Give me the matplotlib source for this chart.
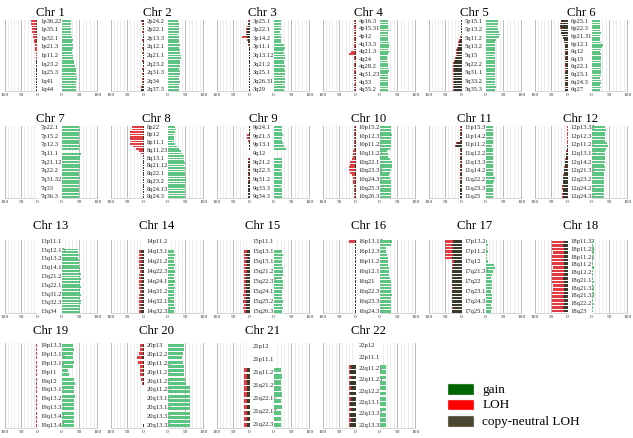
import matplotlib
matplotlib.use('Agg')
import matplotlib.pyplot as plt
from matplotlib.patches import Rectangle
from matplotlib.transforms import blended_transform_factory
import numpy as np

plt.rcParams['font.family'] = ['Liberation Serif', 'DejaVu Serif']

chromosomes = [str(i) for i in range(1, 23)]

band_labels = {
    '1': ['1p36.22', '1p35.1', '1p32.1', '1p21.3', '1p11.2', '1q23.2', '1q25.3', '1q41', '1q44'],
    '2': ['2p24.2', '2p22.1', '2p13.3', '2q12.1', '2q21.1', '2q23.2', '2q31.3', '2q34', '2q37.3'],
    '3': ['3p25.1', '3p22.1', '3p14.2', '3p11.1', '3q13.12', '3q21.2', '3q25.1', '3q26.31', '3q29'],
    '4': ['4p16.3', '4p15.31', '4p12', '4q13.3', '4q21.3', '4q24', '4q28.2', '4q31.23', '4q33', '4q35.2'],
    '5': ['5p15.1', '5p13.2', '5q11.2', '5q13.2', '5q15', '5q22.2', '5q31.1', '5q33.2', '5q35.3'],
    '6': ['6p25.1', '6p22.3', '6p21.31', '6p12.1', '6q12', '6q15', '6q22.1', '6q23.1', '6q24.3', '6q27'],
    '7': ['7p22.1', '7p15.2', '7p12.3', '7q11.1', '7q21.12', '7q22.2', '7q31.32', '7q33', '7q36.3'],
    '8': ['8p22', '8p12', '8p11.1', '8q11.23', '8q13.1', '8q21.12', '8q22.1', '8q23.2', '8q24.13', '8q24.3'],
    '9': ['9p24.1', '9p21.3', '9p13.1', '9q12', '9q21.2', '9q22.3', '9q31.2', '9q33.3', '9q34.3'],
    '10': ['10p15.2', '10p12.32', '10p11.22', '10q11.22', '10q22.1', '10q23.31', '10q24.31', '10q25.3', '10q26.3'],
    '11': ['11p15.3', '11p14.2', '11p11.2', '11q12.2', '11q13.3', '11q14.2', '11q22.2', '11q23.3', '11q25'],
    '12': ['12p13.33', '12p12.3', '12p11.21', '12q13.12', '12q14.2', '12q21.31', '12q23.2', '12q24.21', '12q24.33'],
    '13': ['13p11.1', '13q12.13', '13q13.2', '13q14.13', '13q21.2', '13q22.1', '13q31.2', '13q32.3', '13q34'],
    '14': ['14p11.2', '14q13.1', '14q21.2', '14q22.3', '14q24.1', '14q31.2', '14q32.13', '14q32.33'],
    '15': ['15p11.1', '15q13.1', '15q15.1', '15q21.2', '15q22.31', '15q24.1', '15q25.2', '15q26.3'],
    '16': ['16p13.13', '16p12.3', '16p11.2', '16q12.1', '16q21', '16q22.3', '16q23.3', '16q24.3'],
    '17': ['17p13.2', '17p11.2', '17q12', '17q21.31', '17q22', '17q23.1', '17q24.3', '17q25.1'],
    '18': ['18p11.32', '18p11.23', '18p11.21', '18q11.2', '18q12.2', '18q21.1', '18q21.31', '18q21.33', '18q22.2', '18q23'],
    '19': ['19p13.3', '19p13.13', '19p13.11', '19p11', '19q12', '19q13.12', '19q13.2', '19q13.32', '19q13.41', '19q13.43'],
    '20': ['20p13', '20p12.2', '20p11.23', '20p11.21', '20q11.21', '20q11.23', '20q13.11', '20q13.13', '20q13.31', '20q13.33'],
    '21': ['21p12', '21p11.1', '21q11.2', '21q21.2', '21q22.11', '21q22.13', '21q22.3'],
    '22': ['22p12', '22p11.1', '22q11.21', '22q11.23', '22q12.2', '22q13.1', '22q13.31', '22q13.33'],
}

gain = {
    '1': [26, 27, 25, 27, 28, 26, 30, 31, 29, 33, 31, 30, 29, 31, 32, 35, 36, 38, 40, 42, 41, 43, 44, 42, 41, 42, 40],
    '2': [30, 32, 31, 33, 32, 30, 31, 33, 32, 34, 33, 35, 36, 38, 37, 36, 35, 34, 33, 35, 34, 33, 32, 34, 33, 32, 31],
    '3': [22, 21, 22, 20, 19, 21, 20, 22, 21, 30, 31, 29, 30, 32, 31, 30, 29, 31, 30, 32, 31, 30, 31, 32, 30, 31, 30],
    '4': [24, 25, 23, 24, 26, 25, 24, 23, 25, 26, 28, 27, 25, 26, 24, 22, 20, 21, 23, 24, 25, 26, 24, 25, 23, 24, 25, 24, 23, 24],
    '5': [34, 35, 33, 36, 38, 40, 37, 30, 28, 27, 26, 28, 27, 25, 26, 27, 28, 26, 27, 28, 27, 26, 27, 28, 27, 29, 28],
    '6': [24, 25, 23, 24, 25, 26, 24, 23, 25, 27, 33, 30, 26, 25, 27, 26, 28, 27, 26, 27, 28, 26, 27, 26, 25, 27, 26, 25, 26, 25],
    '7': [50, 51, 49, 50, 48, 49, 50, 51, 49, 0, 55, 52, 51, 50, 52, 51, 50, 49, 50, 51, 50, 49, 48, 50, 49, 48, 49],
    '8': [22, 23, 21, 18, 17, 19, 18, 20, 28, 33, 37, 40, 45, 47, 46, 48, 47, 49, 48, 50, 49, 51, 53, 52, 50, 49, 51, 50, 49, 48],
    '9': [24, 25, 23, 26, 25, 24, 27, 30, 36, 0, 0, 0, 24, 25, 23, 24, 22, 25, 24, 23, 24, 25, 22, 24, 23, 25, 24],
    '10': [32, 33, 31, 34, 33, 32, 31, 33, 30, 22, 24, 23, 30, 35, 36, 34, 33, 30, 28, 30, 31, 32, 33, 32, 31, 33, 32],
    '11': [20, 21, 20, 21, 20, 21, 20, 19, 20, 21, 20, 21, 20, 21, 20, 22, 21, 20, 22, 26, 24, 21, 20, 21, 20, 21, 20],
    '12': [38, 40, 39, 38, 37, 39, 44, 46, 42, 38, 37, 39, 38, 37, 36, 38, 37, 36, 35, 34, 36, 35, 34, 35, 36, 35, 34],
    '13': [0, 0, 0, 46, 47, 48, 47, 48, 49, 50, 52, 53, 54, 53, 54, 53, 52, 54, 53, 52, 54, 53, 55, 54, 53, 52, 53],
    '14': [0, 0, 0, 19, 20, 19, 18, 20, 19, 20, 18, 19, 20, 19, 20, 18, 19, 17, 18, 19, 20, 19],
    '15': [0, 0, 0, 24, 26, 25, 24, 25, 26, 27, 26, 25, 26, 27, 26, 25, 24, 25, 26, 25, 26, 25],
    '16': [35, 33, 18, 19, 20, 24, 25, 24, 26, 27, 28, 30, 31, 32, 33, 32, 34, 33, 32, 33, 32, 31],
    '17': [5, 6, 5, 6, 4, 5, 6, 24, 26, 22, 18, 16, 17, 18, 17, 16, 17, 18, 17, 16, 17, 16],
    '18': [6, 5, 6, 6, 5, 4, 5, 6, 5, 4, 5, 6, 5, 5, 6, 4, 5, 6, 5, 5],
    '19': [33, 34, 32, 33, 34, 33, 18, 20, 36, 37, 36, 35, 37, 36, 35, 34, 35, 36, 35, 34],
    '20': [45, 46, 44, 42, 43, 45, 46, 47, 50, 52, 62, 63, 64, 63, 64, 63, 62, 64, 63, 62],
    '21': [0, 0, 0, 0, 22, 23, 22, 21, 23, 22, 23, 22, 21, 22],
    '22': [0, 0, 0, 0, 18, 19, 17, 18, 19, 18, 17, 19, 18, 19, 18, 17],
}

loh = {
    '1': [15, 14, 13, 12, 11, 10, 9, 8, 7, 6, 5, 4, 3, 3, 2, 1, 1, 1, 1, 1, 1, 1, 1, 1, 1, 1, 1],
    '2': [2, 1, 1, 1, 1, 0, 1, 1, 0, 1, 1, 0, 1, 1, 0, 1, 1, 0, 1, 1, 1, 0, 1, 1, 1, 2, 2],
    '3': [3, 2, 2, 2, 3, 2, 15, 3, 2, 2, 1, 1, 1, 1, 1, 1, 1, 1, 1, 1, 1, 1, 1, 1, 1, 1, 1],
    '4': [3, 4, 3, 4, 3, 3, 4, 3, 3, 4, 4, 3, 4, 12, 18, 4, 3, 3, 4, 3, 3, 4, 3, 3, 3, 4, 3, 3, 4, 3],
    '5': [2, 2, 2, 2, 2, 2, 2, 3, 3, 3, 3, 3, 3, 3, 4, 3, 3, 4, 3, 3, 4, 3, 3, 3, 4, 3, 3],
    '6': [1, 1, 1, 1, 1, 1, 1, 1, 1, 1, 0, 1, 0, 1, 0, 1, 0, 1, 0, 1, 0, 1, 0, 1, 1, 1, 1, 1, 1, 1],
    '7': [0, 0, 0, 0, 0, 0, 0, 0, 0, 0, 0, 0, 0, 0, 0, 0, 0, 0, 0, 0, 0, 0, 0, 0, 0, 0, 0],
    '8': [34, 35, 38, 39, 40, 39, 38, 40, 30, 20, 12, 6, 2, 1, 1, 1, 0, 1, 1, 0, 1, 1, 0, 1, 1, 0, 1, 1, 0, 1],
    '9': [1, 1, 1, 6, 7, 5, 2, 1, 1, 0, 0, 0, 1, 1, 1, 1, 1, 1, 1, 1, 1, 1, 1, 1, 1, 1, 1],
    '10': [4, 4, 3, 4, 3, 4, 3, 4, 3, 5, 6, 7, 10, 14, 16, 18, 17, 15, 10, 7, 6, 5, 4, 4, 3, 3, 3],
    '11': [2, 2, 2, 2, 2, 2, 2, 3, 2, 2, 2, 2, 2, 2, 2, 2, 2, 2, 2, 2, 2, 2, 2, 2, 2, 2, 2],
    '12': [3, 3, 3, 3, 3, 3, 2, 2, 1, 1, 1, 1, 1, 1, 1, 1, 1, 1, 1, 1, 1, 1, 1, 1, 1, 1, 1],
    '13': [0, 0, 0, 0, 0, 0, 0, 0, 0, 0, 0, 0, 0, 0, 0, 0, 0, 0, 0, 0, 0, 0, 0, 0, 0, 0, 0],
    '14': [0, 0, 0, 6, 7, 6, 7, 6, 7, 6, 7, 6, 7, 6, 7, 6, 7, 6, 7, 6, 7, 6],
    '15': [0, 0, 0, 9, 8, 9, 8, 9, 8, 9, 8, 7, 8, 7, 8, 7, 8, 7, 8, 7, 8, 7],
    '16': [20, 0, 0, 0, 0, 0, 0, 0, 0, 0, 0, 0, 0, 0, 0, 0, 0, 0, 0, 0, 0, 0],
    '17': [22, 21, 22, 21, 23, 22, 6, 2, 1, 1, 1, 1, 1, 1, 1, 1, 1, 1, 1, 1, 1, 1],
    '18': [34, 33, 35, 34, 36, 35, 34, 33, 35, 36, 34, 35, 33, 34, 36, 35, 34, 35, 33, 34],
    '19': [3, 2, 3, 3, 2, 3, 2, 3, 3, 2, 2, 3, 2, 3, 3, 2, 3, 2, 3, 3],
    '20': [8, 7, 12, 16, 14, 10, 8, 9, 6, 4, 0, 0, 0, 0, 0, 0, 0, 0, 0, 1],
    '21': [0, 0, 0, 0, 10, 8, 9, 8, 9, 8, 9, 8, 9, 8],
    '22': [0, 0, 0, 0, 4, 5, 4, 5, 4, 5, 4, 5, 4, 5, 4, 5],
}

cnloh = {
    '1': [6, 6, 5, 6, 5, 5, 4, 4, 4, 3, 3, 3, 2, 3, 2, 5, 4, 5, 4, 5, 4, 5, 4, 4, 5, 4, 5],
    '2': [5, 3, 3, 2, 3, 2, 2, 3, 2, 2, 3, 2, 3, 2, 2, 3, 2, 2, 3, 2, 3, 2, 3, 3, 4, 6, 7],
    '3': [3, 4, 6, 8, 9, 10, 7, 6, 4, 3, 2, 2, 2, 2, 2, 2, 2, 2, 2, 2, 2, 2, 2, 2, 2, 2, 2],
    '4': [1, 1, 1, 0, 1, 1, 0, 1, 1, 1, 0, 1, 1, 2, 1, 1, 1, 0, 1, 1, 1, 0, 1, 1, 1, 1, 0, 1, 1, 1],
    '5': [1, 1, 1, 1, 1, 1, 2, 5, 7, 9, 12, 14, 13, 15, 17, 20, 22, 23, 22, 24, 23, 22, 24, 23, 22, 24, 23],
    '6': [20, 21, 22, 21, 20, 19, 16, 13, 11, 9, 8, 7, 7, 6, 7, 6, 7, 6, 7, 6, 7, 6, 7, 6, 7, 6, 7, 7, 6, 7],
    '7': [1, 1, 1, 1, 1, 1, 1, 1, 1, 0, 1, 1, 1, 1, 1, 1, 1, 1, 1, 1, 1, 1, 1, 1, 1, 1, 1],
    '8': [1, 1, 2, 1, 1, 2, 1, 1, 2, 2, 1, 2, 1, 1, 1, 1, 1, 1, 1, 1, 1, 1, 1, 1, 1, 1, 1, 1, 1, 1],
    '9': [1, 1, 1, 1, 1, 1, 1, 1, 1, 0, 0, 0, 3, 4, 3, 4, 3, 4, 3, 4, 3, 4, 4, 5, 4, 5, 5],
    '10': [1, 1, 1, 1, 1, 1, 1, 1, 1, 2, 2, 2, 2, 2, 2, 2, 2, 2, 2, 2, 2, 2, 2, 2, 2, 2, 2],
    '11': [3, 3, 4, 3, 4, 3, 15, 18, 4, 3, 4, 3, 4, 3, 4, 3, 4, 3, 4, 3, 4, 4, 4, 4, 4, 4, 4],
    '12': [0, 0, 0, 0, 0, 0, 0, 1, 2, 3, 4, 5, 6, 7, 8, 9, 10, 11, 12, 13, 14, 14, 15, 15, 14, 15, 15],
    '13': [0, 0, 0, 1, 2, 1, 2, 1, 2, 1, 2, 1, 2, 1, 2, 1, 2, 1, 2, 1, 2, 1, 2, 1, 2, 1, 2],
    '14': [0, 0, 0, 7, 6, 8, 6, 7, 8, 6, 7, 8, 6, 7, 8, 6, 7, 8, 6, 7, 8, 7],
    '15': [0, 0, 0, 9, 10, 9, 10, 9, 10, 9, 10, 11, 10, 11, 10, 11, 12, 11, 12, 11, 12, 11],
    '16': [1, 1, 1, 1, 1, 1, 1, 1, 1, 1, 1, 1, 1, 1, 1, 1, 1, 1, 1, 1, 2, 2],
    '17': [27, 28, 27, 28, 27, 28, 24, 26, 27, 28, 29, 28, 29, 28, 27, 28, 29, 28, 29, 28, 27, 28],
    '18': [12, 13, 12, 11, 12, 13, 12, 12, 11, 12, 13, 12, 12, 11, 12, 13, 12, 12, 13, 12],
    '19': [3, 3, 2, 3, 3, 2, 3, 3, 2, 3, 3, 2, 3, 3, 2, 3, 3, 2, 3, 2],
    '20': [2, 3, 3, 4, 3, 2, 2, 2, 2, 1, 0, 0, 0, 0, 0, 0, 0, 0, 0, 1],
    '21': [0, 0, 0, 0, 8, 9, 8, 9, 8, 9, 8, 9, 8, 9],
    '22': [0, 0, 0, 0, 15, 16, 15, 16, 15, 16, 15, 16, 15, 16, 15, 16],
}

legend_labels = ['gain', 'LOH', 'copy-neutral LOH']
legend_colors = ['#006400', '#ff0000', '#4a4630']

GAIN_C = '#5cc480'
LOH_C = '#e23a3f'
CN_C = '#3a3a2c'

W, H = 633, 438
fig = plt.figure(figsize=(W / 100, H / 100), dpi=100)

# (axes top px, axes height px, title centre px) for each of the 4 rows
row_geom = [(20, 71, 13), (126, 72, 119), (240, 73, 226), (343, 85, 331)]


def px_rect(x0, y0, w, h):
    return [x0 / W, 1 - (y0 + h) / H, w / W, h / H]


def style_axis(ax, n):
    ax.set_ylim(n - 0.5, -0.5)
    ax.set_yticks([])
    ax.set_xticks([0, 50, 100])
    ax.set_xticklabels(['0', '50', '100'])
    ax.tick_params(axis='x', length=0, pad=1.5, labelsize=3.9, labelcolor='#333333')
    for s in ['top', 'left', 'right']:
        ax.spines[s].set_visible(False)
    ax.spines['bottom'].set_color('#c8c8c8')
    ax.spines['bottom'].set_linewidth(0.5)
    for v in range(10, 100, 10):
        if v == 50:
            continue
        ax.axvline(v, color='#e2e2e2', lw=0.45, zorder=0)
    ax.axvline(50, color='#a8a8a8', lw=0.55, zorder=0)
    ax.axvline(100, color='#a8a8a8', lw=0.55, zorder=0, clip_on=False)
    ax.set_facecolor('none')


for k, chrom in enumerate(chromosomes):
    r, c = divmod(k, 6)
    top, h, ty = row_geom[r]
    lx = 4.5 + 106 * c
    axL = fig.add_axes(px_rect(lx, top, 33, h))
    axR = fig.add_axes(px_rect(lx + 57, top, 35.7, h))
    g = np.array(gain[chrom])
    lo = np.array(loh[chrom])
    cn = np.array(cnloh[chrom])
    n = len(g)
    y = np.arange(n)
    bh = 0.7
    axL.barh(y, cn, height=bh, color=CN_C, linewidth=0, zorder=2)
    axL.barh(y, lo, left=cn, height=bh, color=LOH_C, linewidth=0, zorder=2)
    axL.set_xlim(100, 0)
    axR.barh(y, g, height=bh, color=GAIN_C, linewidth=0, zorder=2)
    axR.set_xlim(0, 100)
    style_axis(axL, n)
    style_axis(axR, n)

    labs = band_labels[chrom]
    pos = np.linspace(0, n - 1, len(labs))
    tr = blended_transform_factory(axL.transAxes, axL.transData)
    for p, lab in zip(pos, labs):
        axL.text(1.1, p, lab, transform=tr, ha='left', va='center',
                 fontsize=4.7, color='#222222', clip_on=False)

    fig.text((lx + lx + 92.7) / 2 / W, 1 - ty / H, 'Chr ' + chrom,
             ha='center', va='center', fontsize=9.2, color='black')

# legend
ys = [384, 399.5, 416]
for lab, col, yy in zip(legend_labels, legend_colors, ys):
    fig.add_artist(Rectangle((447.7 / W, 1 - (yy + 10.5) / H), 26.3 / W, 10.5 / H,
                             transform=fig.transFigure, facecolor=col,
                             edgecolor='#dddddd', linewidth=0.3))
    fig.text(482.5 / W, 1 - (yy + 5.5) / H, lab, ha='left', va='center',
             fontsize=9.5, color='black')

fig.savefig('out.png', dpi=100)
